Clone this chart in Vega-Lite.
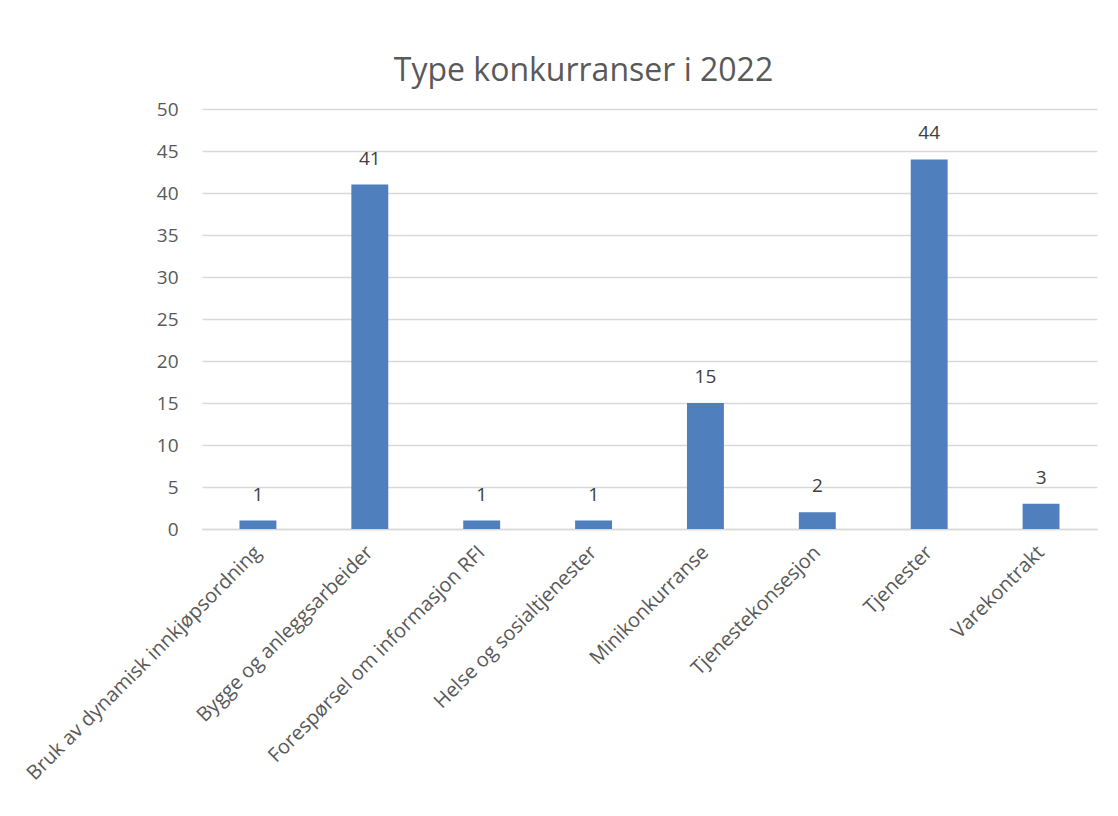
{
  "$schema": "https://vega.github.io/schema/vega-lite/v6.json",
  "autosize": {"type": "none"},
  "width": 895,
  "height": 420,
  "padding": {"left": 202, "top": 109, "right": 21, "bottom": 287},
  "background": "white",
  "title": {
    "text": "Type konkurranser i 2022",
    "font": "Open Sans",
    "fontSize": 32,
    "fontWeight": "normal",
    "color": "#595959",
    "anchor": "middle",
    "dx": -66,
    "offset": 12
  },
  "config": {
    "view": {"stroke": null},
    "font": "Open Sans"
  },
  "data": {
    "values": [
      {"type": "Bruk av dynamisk innkjøpsordning", "antall": 1},
      {"type": "Bygge og anleggsarbeider", "antall": 41},
      {"type": "Forespørsel om informasjon RFI", "antall": 1},
      {"type": "Helse og sosialtjenester", "antall": 1},
      {"type": "Minikonkurranse", "antall": 15},
      {"type": "Tjenestekonsesjon", "antall": 2},
      {"type": "Tjenester", "antall": 44},
      {"type": "Varekontrakt", "antall": 3}
    ]
  },
  "encoding": {
    "x": {
      "field": "type",
      "type": "nominal",
      "sort": null,
      "title": null,
      "scale": {"paddingInner": 0.67, "paddingOuter": 0.335},
      "axis": {
        "labelAngle": -45,
        "labelAlign": "right",
        "labelBaseline": "middle",
        "labelFont": "Open Sans",
        "labelFontSize": 20,
        "labelColor": "#595959",
        "labelPadding": 20,
        "labelLimit": 500,
        "ticks": false,
        "domainColor": "#d9d9d9",
        "domainWidth": 1.5
      }
    },
    "y": {
      "field": "antall",
      "type": "quantitative",
      "title": null,
      "scale": {"domain": [0, 50]},
      "axis": {
        "values": [0, 5, 10, 15, 20, 25, 30, 35, 40, 45, 50],
        "labelFont": "Open Sans",
        "labelFontSize": 19,
        "labelColor": "#595959",
        "labelPadding": 24,
        "ticks": false,
        "domain": false,
        "gridColor": "#d9d9d9",
        "gridWidth": 1.5
      }
    }
  },
  "layer": [
    {"mark": {"type": "bar", "color": "#4f7fbd"}},
    {
      "mark": {
        "type": "text",
        "baseline": "bottom",
        "dy": -16,
        "fontSize": 19,
        "color": "#404040",
        "font": "Open Sans"
      },
      "encoding": {"text": {"field": "antall", "type": "quantitative"}}
    }
  ]
}
